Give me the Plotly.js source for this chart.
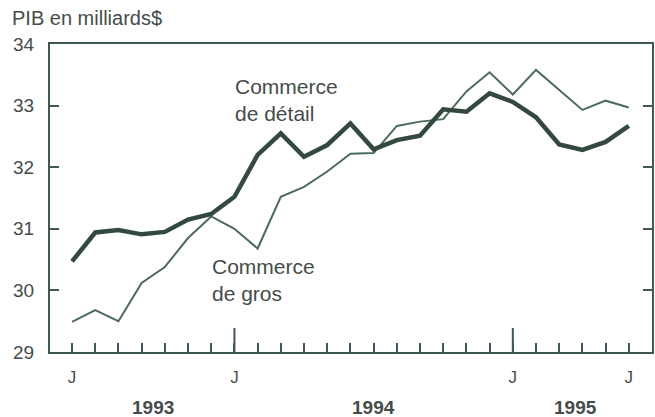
<!DOCTYPE html>
<html>
<head>
<meta charset="utf-8">
<script src="https://cdn.plot.ly/plotly-3.0.1.min.js"></script>
<style>html,body{margin:0;padding:0;background:#fff;}#chart{width:655px;height:417px;}</style>
</head>
<body>
<div id="chart"></div>
<script>
// Monthly index, June 1993 (0) to June 1995 (24)
const months = Array.from({length: 25}, (_, i) => i);
const monthLabels = ["J","","","","","","","J","","","","","","","","","","","","J","","","","","J"];
const yearStartIdx = [7, 19];
const yearLabels = ["1993", "1994", "1995"];
const yearLabelPos = [3.5, 13, 21.7];

const detail = [30.47, 30.94, 30.98, 30.91, 30.95, 31.15, 31.24, 31.52, 32.20, 32.55,
                32.17, 32.36, 32.71, 32.29, 32.44, 32.51, 32.94, 32.90, 33.20, 33.06,
                32.81, 32.37, 32.28, 32.41, 32.67];
const gros = [29.49, 29.68, 29.50, 30.12, 30.38, 30.85, 31.20, 31.00, 30.68, 31.52,
              31.68, 31.93, 32.22, 32.23, 32.67, 32.74, 32.78, 33.23, 33.54, 33.18,
              33.58, 33.25, 32.93, 33.08, 32.97];

const ink = '#3f5a4b';
const txt = '#454d49';
const fam = '"Liberation Sans", Arial, sans-serif';

const traces = [
  {x: months, y: gros, type: 'scatter', mode: 'lines', line: {color: '#4d6b5a', width: 2}, hoverinfo: 'skip'},
  {x: months, y: detail, type: 'scatter', mode: 'lines', line: {color: '#34493d', width: 4.5}, hoverinfo: 'skip'}
];

const shapes = yearStartIdx.map(v => ({
  type: 'line', xref: 'x', yref: 'paper', x0: v, x1: v, y0: 0, y1: 0.078,
  line: {color: ink, width: 2}
}));

const annotations = [
  {text: 'PIB en milliards$', xref: 'paper', yref: 'paper', x: -0.066, y: 1.084,
   xanchor: 'left', yanchor: 'middle', showarrow: false, font: {family: fam, size: 20, color: txt}},
  {text: 'Commerce<br>de détail', xref: 'x', yref: 'y', x: 6.95, y: 33.09, align: 'left',
   xanchor: 'left', yanchor: 'middle', showarrow: false, font: {family: fam, size: 21, color: txt}},
  {text: 'Commerce<br>de gros', xref: 'x', yref: 'y', x: 5.95, y: 30.17, align: 'left',
   xanchor: 'left', yanchor: 'middle', showarrow: false, font: {family: fam, size: 21, color: txt}}
].concat(yearLabels.map((t, i) => ({
  text: '<b>' + t + '</b>', xref: 'x', yref: 'paper', x: yearLabelPos[i], y: -0.18,
  xanchor: 'center', yanchor: 'middle', showarrow: false, font: {family: fam, size: 19, color: txt}
})));

const layout = {
  width: 655, height: 417,
  margin: {l: 50, r: 3, t: 44, b: 65},
  paper_bgcolor: '#fff', plot_bgcolor: '#fff',
  showlegend: false,
  xaxis: {
    range: [-0.95, 25.0], showgrid: false, zeroline: false,
    showline: true, linecolor: ink, linewidth: 2, mirror: true,
    tickmode: 'array', tickvals: months, ticktext: monthLabels,
    ticks: 'inside', ticklen: 9, tickwidth: 2, tickcolor: ink,
    ticklabelstandoff: 9,
    tickfont: {family: fam, size: 17, color: txt}
  },
  yaxis: {
    range: [29, 34], dtick: 1, tick0: 29, showgrid: false, zeroline: false,
    showline: true, linecolor: ink, linewidth: 2, mirror: 'ticks',
    ticks: 'inside', ticklen: 9, tickwidth: 2, tickcolor: ink,
    ticklabelstandoff: 10,
    tickfont: {family: fam, size: 19, color: txt}
  },
  shapes: shapes,
  annotations: annotations
};

Plotly.newPlot('chart', traces, layout, {displayModeBar: false, staticPlot: true});
</script>
</body>
</html>
